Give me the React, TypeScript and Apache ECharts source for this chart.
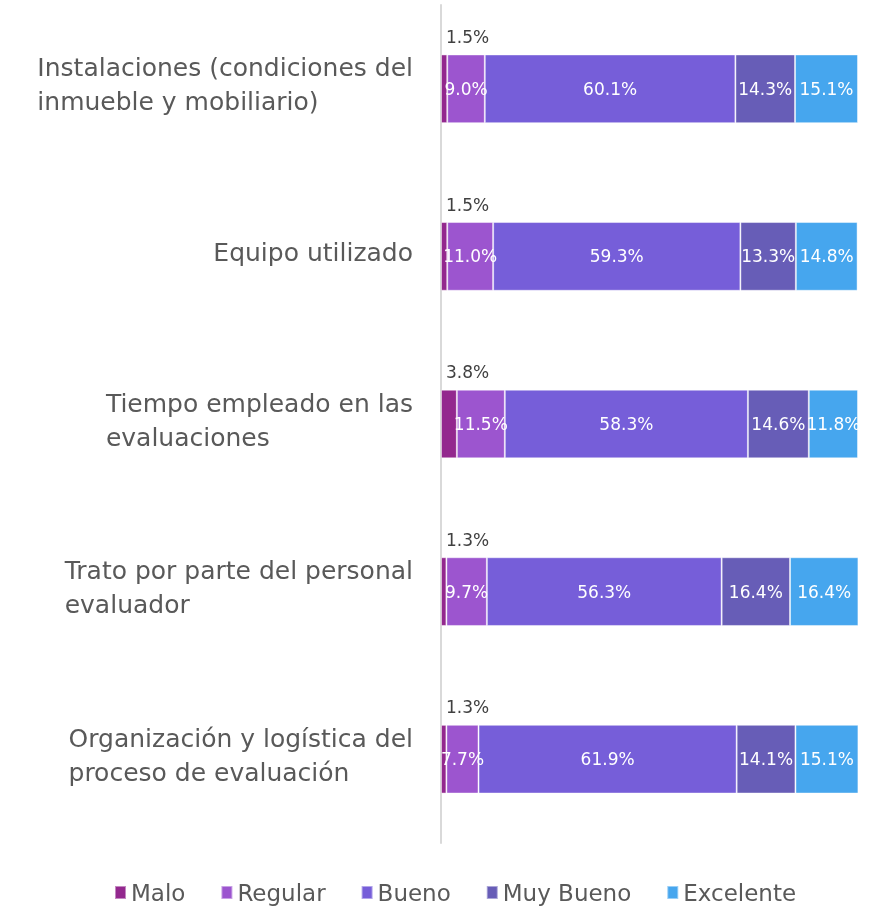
import React, { useEffect, useRef } from "react";
import * as echarts from "echarts";

const categories = [
  "Instalaciones (condiciones del\ninmueble y mobiliario)",
  "Equipo utilizado",
  "Tiempo empleado en las\nevaluaciones",
  "Trato por parte del personal\nevaluador",
  "Organización y logística del\nproceso de evaluación",
];
const seriesNames = ["Malo", "Regular", "Bueno", "Muy Bueno", "Excelente"];
const malo = [1.5, 1.5, 3.8, 1.3, 1.3];
const regular = [9.0, 11.0, 11.5, 9.7, 7.7];
const bueno = [60.1, 59.3, 58.3, 56.3, 61.9];
const muyBueno = [14.3, 13.3, 14.6, 16.4, 14.1];
const excelente = [15.1, 14.8, 11.8, 16.4, 15.1];
const colors = ["#93288E", "#9C55CF", "#765ED9", "#675DB7", "#46A6EE"];

const FONT = "DejaVu Sans";

export default function App() {
  const ref = useRef<HTMLDivElement>(null);
  useEffect(() => {
    if (!ref.current) return;
    const chart = echarts.init(ref.current, undefined, { renderer: "svg" });
    const values = [malo, regular, bueno, muyBueno, excelente];
    const series = seriesNames.map((name, i) => ({
      name,
      type: "bar",
      stack: "total",
      barWidth: "41%",
      data: values[i],
      itemStyle: {
        color: colors[i],
        borderColor: "rgba(255,255,255,0.45)",
        borderWidth: 1,
      },
      label:
        i === 0
          ? {
              show: true,
              position: [5, -26],
              align: "left",
              verticalAlign: "top",
              color: "#404040",
              fontSize: 17,
              fontFamily: FONT,
              formatter: (p: any) => p.value.toFixed(1) + "%",
            }
          : {
              show: true,
              position: "inside",
              color: "#ffffff",
              fontSize: 17,
              fontFamily: FONT,
              formatter: (p: any) => p.value.toFixed(1) + "%",
            },
    }));
    chart.setOption({
      animation: false,
      grid: { left: 441, right: 15, top: 5, bottom: 65, containLabel: false },
      xAxis: { type: "value", min: 0, max: 100, show: false },
      yAxis: {
        type: "category",
        inverse: true,
        data: categories,
        axisLine: { show: true, lineStyle: { color: "#d9d9d9", width: 2 } },
        axisTick: { show: false },
        axisLabel: {
          margin: 28,
          color: "#595959",
          fontSize: 25,
          fontFamily: FONT,
          lineHeight: 34,
          padding: [0, 0, 8, 0],
          formatter: (v: string) =>
            v
              .split("\n")
              .map((l) => "{a|" + l + "}")
              .join("\n"),
          rich: {
            a: {
              align: "left",
              color: "#595959",
              fontSize: 25,
              fontFamily: FONT,
              lineHeight: 34,
            },
          },
        },
      },
      legend: {
        top: 876,
        left: 109,
        icon: "rect",
        itemWidth: 11,
        itemHeight: 13,
        itemGap: 35,
        textStyle: { color: "#595959", fontSize: 23, fontFamily: FONT },
        data: seriesNames,
      },
      series,
    });
    return () => chart.dispose();
  }, []);
  return (
    <div
      ref={ref}
      style={{ position: "fixed", left: 0, top: 0, width: 873, height: 908 }}
    />
  );
}
